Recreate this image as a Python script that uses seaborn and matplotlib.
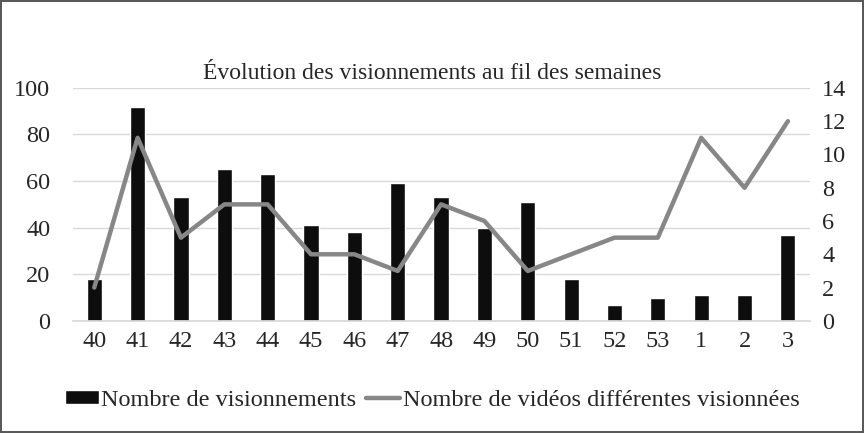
import matplotlib
matplotlib.use("Agg")
import matplotlib.pyplot as plt
import seaborn as sns
import pandas as pd
import numpy as np
from matplotlib.patches import Patch
from matplotlib.lines import Line2D

semaines = ["40", "41", "42", "43", "44", "45", "46", "47", "48", "49",
            "50", "51", "52", "53", "1", "2", "3"]
visionnements = [18, 92, 53, 65, 63, 41, 38, 59, 53, 40, 51, 18, 7, 10, 11, 11, 37]
videos_diff = [2, 11, 5, 7, 7, 4, 4, 3, 7, 6, 3, 4, 5, 5, 11, 8, 12]

sns.set_theme(style="white")
plt.rcParams["font.family"] = ["Liberation Serif", "DejaVu Serif"]

df = pd.DataFrame({"semaine": semaines, "vues": visionnements,
                   "videos": videos_diff, "pos": np.arange(len(semaines))})

fig = plt.figure(figsize=(8.64, 4.33), dpi=100)
fig.patch.set_edgecolor("#595959")
fig.patch.set_linewidth(1.5)
ax = fig.add_axes([0.084, 0.259, 0.853, 0.538])

sns.barplot(data=df, x="semaine", y="vues", order=semaines, color="#0d0d0d",
            width=0.35, saturation=1, ax=ax)
ax.set_ylim(0, 100)
ax.set_yticks(range(0, 101, 20))
ax.yaxis.grid(True, color="#d9d9d9", linewidth=1)
ax.set_axisbelow(True)
ax.set_xlabel("")
ax.set_ylabel("")
ax.tick_params(axis="x", labelsize=17.5, length=0, pad=7)
ax.tick_params(axis="y", labelsize=17.5, length=0, pad=16)
for s in ax.spines.values():
    s.set_visible(False)
ax.spines["bottom"].set_visible(True)
ax.spines["bottom"].set_color("#d9d9d9")

ax2 = ax.twinx()
sns.lineplot(data=df, x="pos", y="videos", color="#878787", linewidth=3.2, ax=ax2)
ax2.set_ylim(0, 14)
ax2.set_yticks(range(0, 15, 2))
ax2.set_ylabel("")
ax2.tick_params(axis="y", labelsize=17.5, length=0, pad=9)
for s in ax2.spines.values():
    s.set_visible(False)
ax.set_xlim(-0.5, len(semaines) - 0.5)

fig.suptitle("Évolution des visionnements au fil des semaines", fontsize=17, y=0.855)

handles = [Patch(facecolor="#0d0d0d", label="Nombre de visionnements"),
           Line2D([0], [0], color="#878787", linewidth=3.2,
                  label="Nombre de vidéos différentes visionnées")]
fig.legend(handles=handles, loc="center", bbox_to_anchor=(0.5, 0.076), ncol=2,
           frameon=False, fontsize=17.5, handlelength=1.4, handleheight=0.5,
           handletextpad=0.1, columnspacing=0.4)

fig.savefig("out.png", dpi=100)
